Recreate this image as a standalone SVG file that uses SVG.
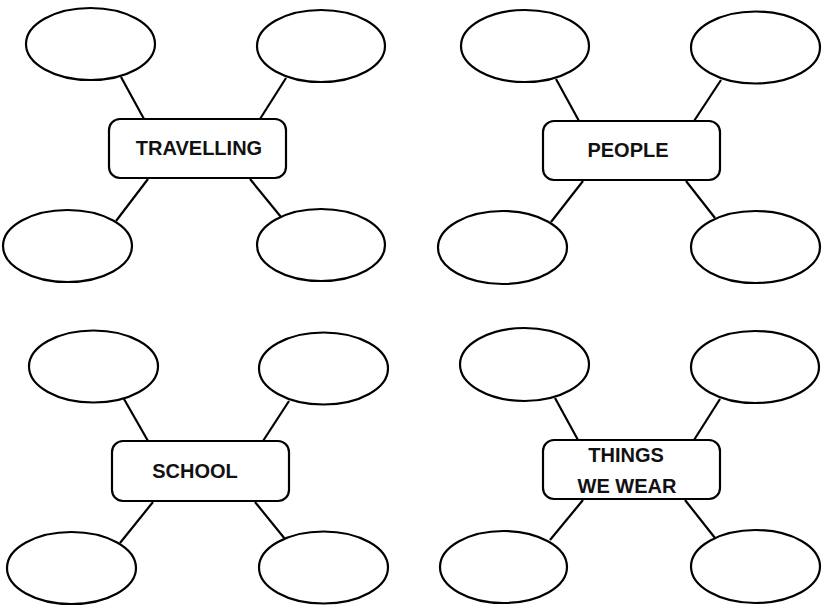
<svg xmlns="http://www.w3.org/2000/svg" width="831" height="610" viewBox="0 0 831 610">
<style>
.bubble{fill:#fff;stroke:#000;stroke-width:2.2}
.box{fill:#fff;stroke:#000;stroke-width:2.2}
.conn line{stroke:#000;stroke-width:2.2}
.lbl{font-family:"Liberation Sans",Arial,sans-serif;font-weight:bold;font-size:20px;fill:#111;text-anchor:middle}
</style>
<rect width="831" height="610" fill="#fff"/>
<g id="connectors" class="conn">
<line x1="121" y1="77" x2="144" y2="119"/>
<line x1="286" y1="78" x2="260" y2="119"/>
<line x1="148" y1="179" x2="116" y2="221"/>
<line x1="250" y1="179" x2="281" y2="217"/>
<line x1="556" y1="79" x2="579" y2="121"/>
<line x1="721" y1="80" x2="694" y2="121"/>
<line x1="583" y1="181" x2="551" y2="222"/>
<line x1="686" y1="181" x2="715" y2="218"/>
<line x1="124" y1="399" x2="148" y2="441"/>
<line x1="289" y1="401" x2="263" y2="441"/>
<line x1="153" y1="502" x2="120" y2="543"/>
<line x1="255" y1="502" x2="285" y2="539"/>
<line x1="555" y1="398" x2="578" y2="440"/>
<line x1="720" y1="399" x2="694" y2="440"/>
<line x1="583" y1="500" x2="550" y2="540"/>
<line x1="685" y1="500" x2="715" y2="538"/>
</g>
<g id="travelling">
<rect class="box" x="109" y="119" width="177" height="59" rx="11"/>
<text class="lbl" x="199" y="155">TRAVELLING</text>
</g>
<g id="travelling-tl"><ellipse class="bubble" cx="90.5" cy="44" rx="64.5" ry="36"/></g>
<g id="travelling-tr"><ellipse class="bubble" cx="321" cy="46" rx="64" ry="36"/></g>
<g id="travelling-bl"><ellipse class="bubble" cx="67.5" cy="246" rx="64.5" ry="36"/></g>
<g id="travelling-br"><ellipse class="bubble" cx="321" cy="245" rx="64" ry="36"/></g>
<g id="people">
<rect class="box" x="543" y="121" width="177" height="59" rx="11"/>
<text class="lbl" x="628" y="157">PEOPLE</text>
</g>
<g id="people-tl"><ellipse class="bubble" cx="525" cy="46" rx="64" ry="36"/></g>
<g id="people-tr"><ellipse class="bubble" cx="755.5" cy="47.5" rx="64.5" ry="36"/></g>
<g id="people-bl"><ellipse class="bubble" cx="502.5" cy="247.5" rx="64.5" ry="36.5"/></g>
<g id="people-br"><ellipse class="bubble" cx="755.5" cy="247" rx="64.5" ry="36"/></g>
<g id="school">
<rect class="box" x="112" y="441" width="177" height="60" rx="11"/>
<text class="lbl" x="195" y="478">SCHOOL</text>
</g>
<g id="school-tl"><ellipse class="bubble" cx="93.5" cy="366.5" rx="64.5" ry="36"/></g>
<g id="school-tr"><ellipse class="bubble" cx="323.5" cy="368.5" rx="64.5" ry="36"/></g>
<g id="school-bl"><ellipse class="bubble" cx="71.5" cy="568" rx="64.5" ry="36"/></g>
<g id="school-br"><ellipse class="bubble" cx="323.5" cy="567.5" rx="64.5" ry="36"/></g>
<g id="things-we-wear">
<rect class="box" x="543" y="440" width="177" height="59" rx="11"/>
<text class="lbl" x="626" y="462">THINGS</text>
<text class="lbl" x="627" y="493">WE WEAR</text>
</g>
<g id="things-tl"><ellipse class="bubble" cx="524.5" cy="364.5" rx="64.5" ry="36.5"/></g>
<g id="things-tr"><ellipse class="bubble" cx="755" cy="367" rx="64" ry="36"/></g>
<g id="things-bl"><ellipse class="bubble" cx="503.5" cy="567" rx="63.5" ry="36"/></g>
<g id="things-br"><ellipse class="bubble" cx="755.5" cy="566.5" rx="64.5" ry="36.5"/></g>
</svg>
